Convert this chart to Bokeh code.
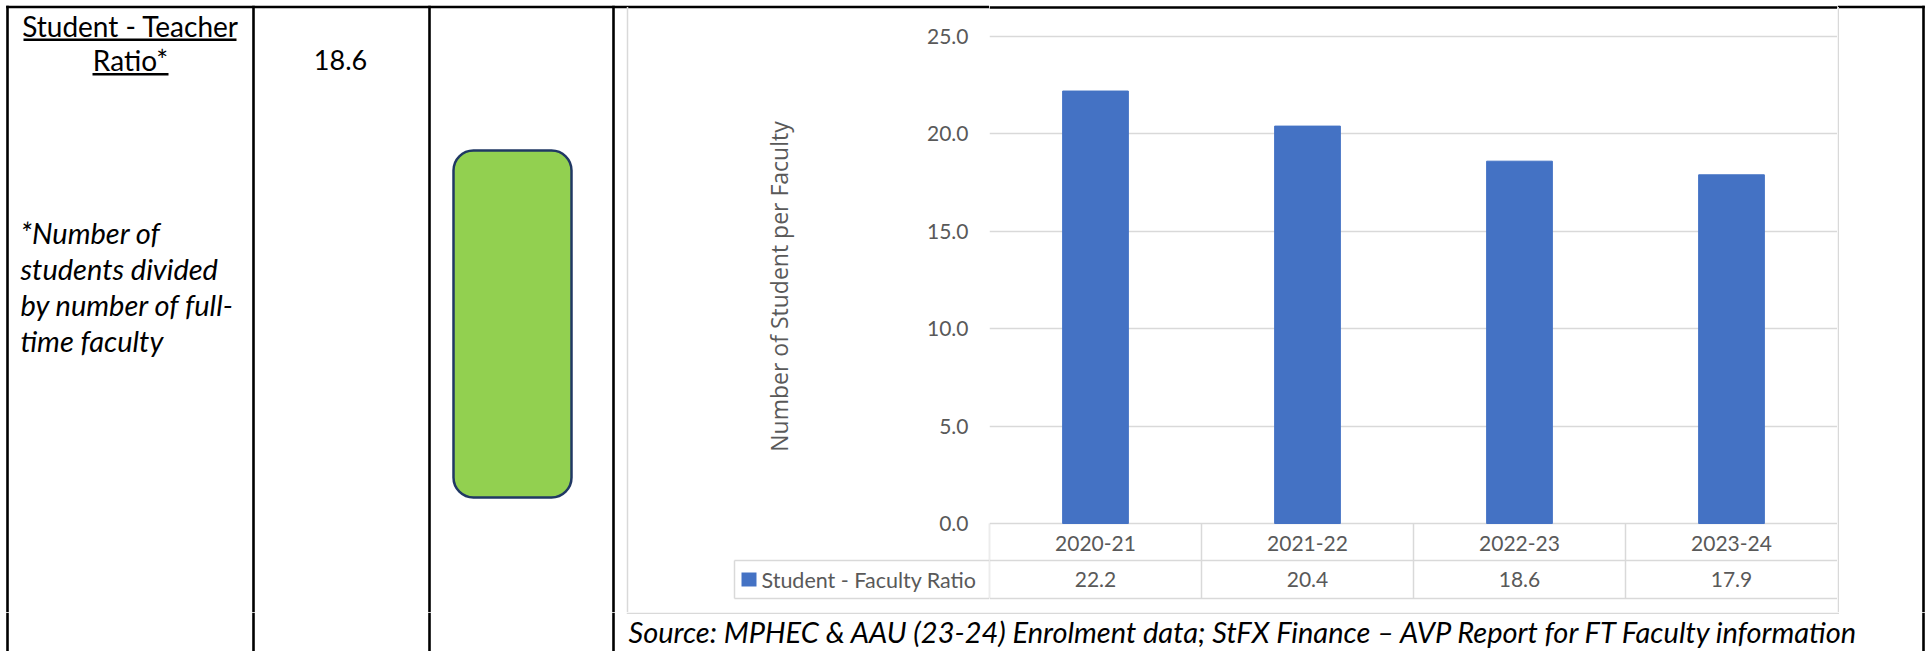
import math
from bokeh.plotting import figure
from bokeh.layouts import row, column
from bokeh.models import FactorRange, Range1d, ColumnDataSource
from bokeh.transform import dodge
from bokeh.core.properties import value
from bokeh.embed import file_html
from bokeh.resources import INLINE

# ---------------- data ----------------
years = ["2020-21", "2021-22", "2022-23", "2023-24"]
ratios = [22.2, 20.4, 18.6, 17.9]
series_name = "Student - Faculty Ratio"
y_ticks = [0, 5, 10, 15, 20, 25]
y_title = "Number of Student  per Faculty"
metric_title = ["Student - Teacher", "Ratio*"]
metric_value = "18.6"
metric_note = ["*Number of", "students divided", "by number of full-", "time faculty"]
source_note = ("Source: MPHEC & AAU (23-24) Enrolment data; StFX Finance \u2013 "
               "AVP Report for FT Faculty information")

# ---------------- layout (page pixels) ----------------
X0, X1, Y0, Y1 = 0, 1931, 0, 651      # drawable page area
PL, PR, PT, PB = 989, 1837, 36, 523   # bar plot area
YS = 612                              # top of the source strip
ROW1, ROW2 = 560, 598                 # data-table row lines
COLS = (7, 253, 429, 613, 1923)       # black table column lines
TOPLINE = 6.5
CHART_L = 627
GRID = "#D9D9D9"
TXT = "#595959"
BLUE = "#4472C4"
FONT = "Lato"
BLK = 2.6

# value range for panels whose vertical extent is Y0..YS
k = (PB - PT) / (y_ticks[-1] - y_ticks[0])
v_lo = y_ticks[0] - (YS - PB) / k
v_hi = y_ticks[-1] + (PT - Y0) / k


def panel(x0, x1, y0, y1, **kw):
    f = figure(width=int(round(x1 - x0)), height=int(round(y1 - y0)),
               min_border=0, toolbar_location=None, output_backend="svg",
               x_axis_location=None, y_axis_location=None, **kw)
    f.outline_line_color = None
    f.background_fill_color = "white"
    f.border_fill_color = "white"
    f.grid.visible = False
    return f


def rect(f, l, r, t, b, color, **kw):
    f.quad(left=[l], right=[r], top=[t], bottom=[b], fill_color=color,
           line_color=None, **kw)


def txt(f, x, y, s, size, color="black", align="left", style="normal",
        font=FONT, **kw):
    f.text(x=[x], y=[y], text=[s], text_font=value(font), text_font_size=size,
           text_color=color, text_align=align, text_baseline="middle",
           text_font_style=style, **kw)


# ---------- left panel ----------
fL = panel(X0, PL, Y0, YS, x_range=Range1d(X0, PL), y_range=Range1d(YS, Y0))
fL.extra_y_ranges = {"val": Range1d(v_lo, v_hi)}
rect(fL, COLS[0] - BLK / 2, PL, TOPLINE - BLK / 2, TOPLINE + BLK / 2, "black")
for X in COLS[:4]:
    rect(fL, X - BLK / 2, X + BLK / 2, TOPLINE - BLK / 2, YS, "black")
rect(fL, CHART_L - 0.75, CHART_L + 0.75, TOPLINE, YS, GRID)      # chart border
# legend cell of data table
rect(fL, 734, PL, ROW1 - 0.75, ROW1 + 0.75, GRID)
rect(fL, 734, PL, ROW2 - 0.75, ROW2 + 0.75, GRID)
rect(fL, 733.25, 734.75, ROW1, ROW2, GRID)
rect(fL, PL - 0.75, PL, PB, ROW2, GRID)
rect(fL, 741, 756, 572, 586, BLUE)
txt(fL, 761, 579, series_name, "21.5px", TXT)
# y tick labels through the value scale
fL.text(x=[968] * len(y_ticks), y=y_ticks, text=[f"{t:.1f}" for t in y_ticks],
        y_range_name="val", text_font=value(FONT), text_font_size="21px",
        text_color=TXT, text_align="right", text_baseline="middle")
txt(fL, 778, 283, y_title, "23px", TXT, align="center", font="Open Sans",
    angle=math.pi / 2)
# metric cells
txt(fL, 130, 25, metric_title[0], "28px", align="center")
txt(fL, 130, 59.5, metric_title[1], "28px", align="center")
rect(fL, 23, 236, 38, 40.5, "black")
rect(fL, 92, 168, 72.5, 75, "black")
txt(fL, 340, 59.5, metric_value, "27px", align="center")
for i, line in enumerate(metric_note):
    txt(fL, 20, 232 + 36 * i, line, "29px", style="italic")
fL.quad(left=[453], right=[571], top=[150], bottom=[497], fill_color="#92D050",
        line_color="#203864", line_width=2.5, border_radius=20)

# ---------- bar panel ----------
fB = panel(PL, PR, Y0, YS,
           x_range=FactorRange(*years, range_padding=0, factor_padding=0),
           y_range=Range1d(v_lo, v_hi))
fB.extra_y_ranges = {"py": Range1d(YS, Y0)}
fB.hspan(y=y_ticks, line_color=GRID, line_width=1.5)
fB.vbar(x=years, top=ratios, bottom=0, width=0.31, fill_color=BLUE,
        line_color=BLUE)
fB.hspan(y=[TOPLINE], y_range_name="py", line_color="black", line_width=BLK)
fB.hspan(y=[ROW1, ROW2], y_range_name="py", line_color=GRID, line_width=1.5)
src = ColumnDataSource(dict(x=years, y0=[PB] * len(years), y1=[ROW2] * len(years)))
fB.segment(x0=dodge("x", -0.5, range=fB.x_range),
           x1=dodge("x", -0.5, range=fB.x_range),
           y0="y0", y1="y1", source=src, y_range_name="py",
           line_color=GRID, line_width=1.5)
fB.text(x=years, y=[543] * len(years), text=years, y_range_name="py",
        text_font=value(FONT), text_font_size="21px", text_color=TXT,
        text_align="center", text_baseline="middle")
fB.text(x=years, y=[579] * len(years), text=[f"{v:.1f}" for v in ratios],
        y_range_name="py", text_font=value(FONT), text_font_size="21px",
        text_color=TXT, text_align="center", text_baseline="middle")

# ---------- right panel ----------
fR = panel(PR, X1, Y0, YS, x_range=Range1d(PR, X1), y_range=Range1d(YS, Y0))
rect(fR, PR, COLS[4] + BLK / 2, TOPLINE - BLK / 2, TOPLINE + BLK / 2, "black")
rect(fR, COLS[4] - BLK / 2, COLS[4] + BLK / 2, TOPLINE - BLK / 2, YS, "black")
rect(fR, PR, PR + 1.5, TOPLINE, YS, GRID)

# ---------- source strip ----------
fS = panel(X0, X1, YS, Y1, x_range=Range1d(X0, X1), y_range=Range1d(Y1, YS))
for X in COLS:
    rect(fS, X - BLK / 2, X + BLK / 2, YS, Y1, "black")
rect(fS, CHART_L - 0.75, PR + 1.5, YS, YS + 1.5, GRID)
txt(fS, 628, 631, source_note, "29px", style="italic")

page = column(row(fL, fB, fR), fS)
open("out.html", "w").write(file_html(page, INLINE))
